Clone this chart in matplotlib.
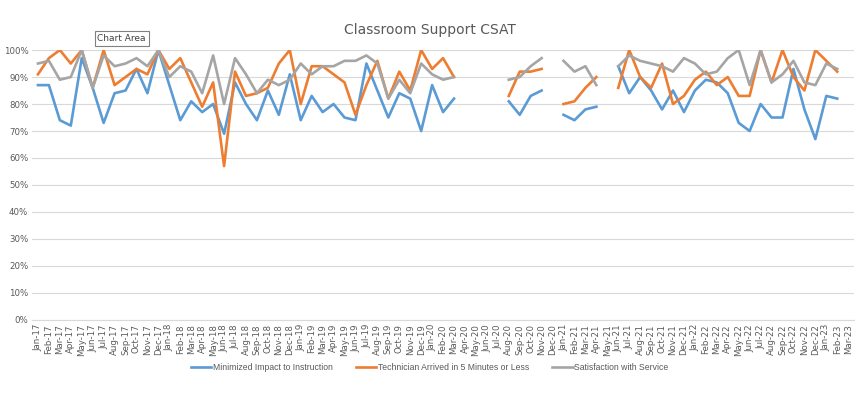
import matplotlib.pyplot as plt
import numpy as np

nan = np.nan

months = ["Jan", "Feb", "Mar", "Apr", "May", "Jun", "Jul", "Aug", "Sep", "Oct", "Nov", "Dec"]
labels = [m + "-" + str(y) for y in range(17, 24) for m in months][:75]

minimized = [87, 87, 74, 72, 97, 86, 73, 84, 85, 93, 84, 100,
             87, 74, 81, 77, 80, 69, 88, 80, 74, 85, 76, 91,
             74, 83, 77, 80, 75, 74, 95, 85, 75, 84, 82, 70,
             87, 77, 82, nan, nan, nan, nan, 81, 76, 83, 85, nan,
             76, 74, 78, 79, nan, 94, 84, 90, 85, 78, 85, 77,
             85, 89, 88, 84, 73, 70, 80, 75, 75, 93, 78, 67,
             83, 82, nan]
technician = [91, 97, 100, 95, 100, 86, 100, 87, 90, 93, 91, 100,
              93, 97, 88, 79, 88, 57, 92, 83, 84, 86, 95, 100,
              80, 94, 94, 91, 88, 76, 87, 96, 82, 92, 85, 100,
              93, 97, 90, nan, nan, nan, nan, 83, 92, 92, 93, nan,
              80, 81, 86, 90, nan, 86, 100, 90, 86, 95, 80, 83,
              89, 92, 87, 90, 83, 83, 100, 88, 100, 90, 85, 100,
              96, 92, nan]
satisfaction = [95, 96, 89, 90, 100, 86, 98, 94, 95, 97, 94, 100,
                90, 94, 92, 84, 98, 80, 97, 91, 84, 89, 87, 89,
                95, 91, 94, 94, 96, 96, 98, 95, 82, 89, 84, 95,
                91, 89, 90, nan, nan, nan, nan, 89, 90, 94, 97, nan,
                96, 92, 94, 87, nan, 94, 98, 96, 95, 94, 92, 97,
                95, 91, 92, 97, 100, 87, 100, 88, 91, 96, 88, 87,
                95, 93, nan]

x = np.arange(len(labels))
grey = "#595959"

fig = plt.figure(figsize=(8.59, 3.94), dpi=100)
ax = fig.add_axes([0.0378, 0.188, 0.956, 0.685])

ax.plot(x, np.array(minimized) / 100, color="#5B9BD5", lw=1.9, label="Minimized Impact to Instruction")
ax.plot(x, np.array(technician) / 100, color="#ED7D31", lw=1.9, label="Technician Arrived in 5 Minutes or Less")
ax.plot(x, np.array(satisfaction) / 100, color="#A5A5A5", lw=1.9, label="Satisfaction with Service")

ax.set_xlim(-0.5, len(labels) - 0.5)
ax.set_ylim(0, 1)
ax.set_yticks(np.arange(0, 1.01, 0.1))
ax.set_yticklabels([f"{int(round(v * 100))}%" for v in np.arange(0, 1.01, 0.1)])
ax.set_xticks(x)
ax.set_xticklabels(labels, rotation=90)
ax.tick_params(axis="both", labelsize=6.2, colors=grey, length=0, pad=3)
ax.grid(axis="y", color="#d9d9d9", lw=0.8)
ax.set_axisbelow(True)
for s in ["top", "right", "left"]:
    ax.spines[s].set_visible(False)
ax.spines["bottom"].set_color("#d9d9d9")

fig.text(0.5, 0.925, "Classroom Support CSAT", ha="center", va="center", fontsize=10, color=grey)

leg = fig.legend(loc="center", bbox_to_anchor=(0.5, 0.068), ncol=3, frameon=False,
                 prop={"family": "Liberation Sans", "size": 6.2},
                 handlelength=2.4, handletextpad=0.15, columnspacing=2.7)
for t in leg.get_texts():
    t.set_color(grey)

# Excel "Chart Area" tooltip
fig.text(0.1135, 0.902, "Chart Area", fontsize=6.5, color="#404040", ha="left", va="center",
         bbox=dict(boxstyle="square,pad=0.3", fc="white", ec="#808080", lw=0.8))

fig.savefig("out.png", dpi=100)
